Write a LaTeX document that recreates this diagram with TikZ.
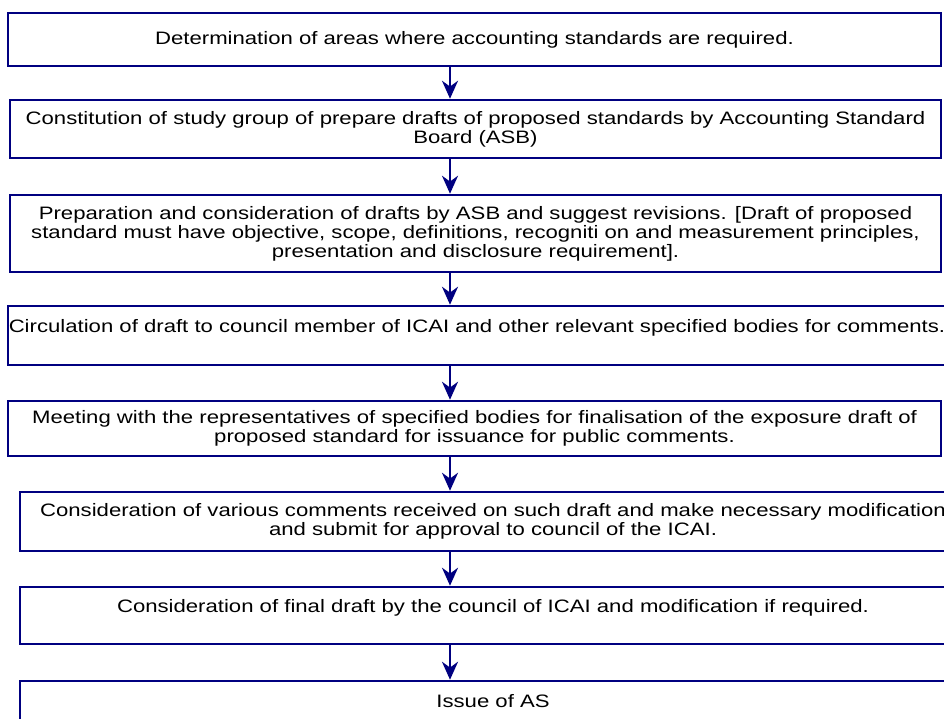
\documentclass[tikz,border=0pt]{standalone}
\usepackage{fontspec}
\newfontfamily\boxfont[FakeStretch=1.23]{Liberation Sans}
\usetikzlibrary{positioning, arrows.meta}
\definecolor{navy}{RGB}{0,0,128}
\tikzstyle{process} = [rectangle, 
minimum width=933pt, 
minimum height=53pt, 
inner sep=0pt, 
align=center, 
draw=navy, 
line width=2.5pt, 
fill=white, 
font=\boxfont\fontsize{18pt}{19pt}\selectfont]
\tikzstyle{arrow} = [line width=2.5pt, draw=navy, -{Stealth[length=18pt, width=16pt]}]

\begin{document}
\begin{tikzpicture}[node distance=35pt]
  \useasboundingbox (0,0) rectangle (944pt,-719pt);
  \coordinate (spine) at (450pt,0);

  \node (areas) [process] at (474.5pt,-39.5pt) {Determination of areas where accounting standards are required.};
  \node (studygroup) [process, minimum width=931pt, minimum height=58pt, below=31.5pt of areas, xshift=1pt] {Constitution of study group of prepare drafts of proposed standards by Accounting Standard\\Board (ASB)};
  \node (drafts) [process, minimum width=931pt, minimum height=77pt, below=34.5pt of studygroup] {Preparation and consideration of drafts by ASB and suggest revisions. [Draft of proposed\\standard must have objective, scope, definitions, recogniti on and measurement principles,\\presentation and disclosure requirement].};
  \node (circulation) [process, minimum width=938pt, minimum height=59pt, below=31.5pt of drafts, xshift=1.5pt] {Circulation of draft to council member of ICAI and other relevant specified bodies for comments.\\\null};
  \node (meeting) [process, minimum height=55pt, below=33.5pt of circulation, xshift=-2.5pt] {Meeting with the representatives of specified bodies for finalisation of the exposure draft of\\proposed standard for issuance for public comments.};
  \node (comments) [process, minimum width=946pt, minimum height=59pt, below=33.5pt of meeting, xshift=18.5pt] {Consideration of various comments received on such draft and make necessary modification\\and submit for approval to council of the ICAI.};
  \node (finaldraft) [process, minimum width=946pt, minimum height=57pt, below=33.5pt of comments] {Consideration of final draft by the council of ICAI and modification if required.\\\null};
  \node (issue) [process, minimum width=946pt, minimum height=59pt, below=34.5pt of finaldraft] {Issue of AS\\\null};

  \draw [arrow] (areas.south -| spine) -- (studygroup.north -| spine);
  \draw [arrow] (studygroup.south -| spine) -- (drafts.north -| spine);
  \draw [arrow] (drafts.south -| spine) -- (circulation.north -| spine);
  \draw [arrow] (circulation.south -| spine) -- (meeting.north -| spine);
  \draw [arrow] (meeting.south -| spine) -- (comments.north -| spine);
  \draw [arrow] (comments.south -| spine) -- (finaldraft.north -| spine);
  \draw [arrow] (finaldraft.south -| spine) -- (issue.north -| spine);
\end{tikzpicture}
\end{document}
